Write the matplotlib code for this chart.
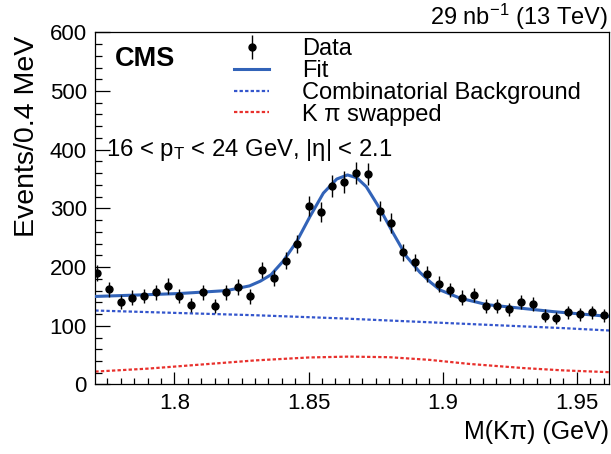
import numpy as np
import matplotlib.pyplot as plt
from matplotlib.ticker import MultipleLocator

plt.rcParams['font.family'] = ['Liberation Sans', 'DejaVu Sans']
plt.rcParams['mathtext.fontset'] = 'custom'
plt.rcParams['mathtext.rm'] = 'Liberation Sans'
plt.rcParams['mathtext.it'] = 'Liberation Sans:italic'
plt.rcParams['mathtext.default'] = 'regular'

# D0 -> K pi candidates, bin centres (GeV)
mass = [1.7711, 1.7755, 1.7799, 1.7843, 1.7887, 1.7931, 1.7975, 1.8018,
        1.8062, 1.8106, 1.8150, 1.8194, 1.8238, 1.8282, 1.8326, 1.8370,
        1.8414, 1.8458, 1.8502, 1.8546, 1.8589, 1.8633, 1.8677, 1.8721,
        1.8765, 1.8809, 1.8853, 1.8897, 1.8941, 1.8985, 1.9029, 1.9073,
        1.9116, 1.9160, 1.9204, 1.9248, 1.9292, 1.9336, 1.9380, 1.9424,
        1.9468, 1.9512, 1.9556, 1.9600]
counts = [190, 162, 141, 148, 151, 157, 168, 151, 135, 157, 134, 157, 166,
          150, 195, 181, 211, 239, 304, 294, 338, 345, 360, 358, 296, 275,
          225, 208, 188, 171, 161, 148, 152, 134, 134, 128, 140, 137, 117,
          113, 123, 120, 123, 118]
errors = [13.8, 12.7, 11.9, 12.2, 12.3, 12.5, 13.0, 12.3, 11.6, 12.5, 11.6,
          12.5, 12.9, 12.2, 14.0, 13.5, 14.5, 15.5, 17.4, 17.1, 18.4, 18.6,
          19.0, 18.9, 17.2, 16.6, 15.0, 14.4, 13.7, 13.1, 12.7, 12.2, 12.3,
          11.6, 11.6, 11.3, 11.8, 11.7, 10.8, 10.6, 11.1, 11.0, 11.1, 10.9]

# fit curves
fit_mass = [1.7705, 1.790, 1.802, 1.8195, 1.828, 1.832, 1.836, 1.8405,
            1.8455, 1.8505, 1.8555, 1.8605, 1.8645, 1.868, 1.8715, 1.8765,
            1.8815, 1.8865, 1.8915, 1.8955, 1.899, 1.9065, 1.9165, 1.929,
            1.9415, 1.962]
fit_vals = [150, 153, 155, 160, 168, 176, 187, 210, 243, 286, 326, 350, 357,
            352, 337, 300, 258, 218, 191, 174, 161, 147, 136, 130, 124, 116]

bkg_mass = [1.7705, 1.80, 1.83, 1.86, 1.89, 1.92, 1.945, 1.962]
bkg_vals = [126, 122, 118, 113, 107, 101, 96, 92]

swap_mass = [1.7705, 1.79, 1.81, 1.83, 1.85, 1.865, 1.88, 1.895, 1.91, 1.93,
             1.945, 1.962]
swap_vals = [22, 27, 34, 41, 46, 47.5, 46.5, 42, 35, 28, 24, 21]

fig = plt.figure(figsize=(6.11, 4.54), dpi=100)
ax = fig.add_axes([0.156, 0.1531, 0.8408, 0.7758])

data = ax.errorbar(mass, counts, yerr=errors, fmt='o', color='black',
                   markersize=5, elinewidth=1, capsize=0, zorder=5)
fit_line, = ax.plot(fit_mass, fit_vals, color='#3263b8', lw=2.2, zorder=4)
bkg_line, = ax.plot(bkg_mass, bkg_vals, color='#3355cc', lw=1.6,
                    linestyle=(0, (1.5, 1)))
swap_line, = ax.plot(swap_mass, swap_vals, color='#e8302c', lw=1.6,
                     linestyle=(0, (1.5, 1)))

ax.set_xlim(1.7705, 1.962)
ax.set_ylim(0, 600)
ax.xaxis.set_major_locator(MultipleLocator(0.05))
ax.xaxis.set_minor_locator(MultipleLocator(0.005))
ax.yaxis.set_major_locator(MultipleLocator(100))
ax.yaxis.set_minor_locator(MultipleLocator(20))
ax.tick_params(which='both', direction='in', top=False, right=False,
               labelsize=16, width=0.9)
ax.tick_params(axis='x', which='major', length=8.6, pad=6)
ax.tick_params(axis='x', which='minor', length=4.2)
ax.tick_params(axis='y', which='major', length=10.5, pad=6)
ax.tick_params(axis='y', which='minor', length=5)
ax.xaxis.set_major_formatter(plt.FuncFormatter(lambda v, p: f'{v:g}'))
for s in ax.spines.values():
    s.set_linewidth(0.9)

ax.set_xlabel('M(K\u03c0) (GeV)', fontsize=18, loc='right')
ax.xaxis.set_label_coords(1.0, -0.1)
ax.set_ylabel('Events/0.4 MeV', fontsize=20.5, loc='top')
ax.yaxis.set_label_coords(-0.108, 0.99)

ax.text(0.998, 1.021, '29 nb$^{-1}$ (13 TeV)', transform=ax.transAxes,
        ha='right', va='baseline', fontsize=17)
ax.text(0.038, 0.925, 'CMS', transform=ax.transAxes, ha='left', va='center',
        fontsize=19.5, fontweight='bold')
ax.text(0.021, 0.666, '16 < p$_{T}$ < 24 GeV, |\u03b7| < 2.1',
        transform=ax.transAxes, ha='left', va='center', fontsize=17.2)

ax.legend([data, fit_line, bkg_line, swap_line],
          ['Data', 'Fit', 'Combinatorial Background', 'K \u03c0 swapped'],
          loc='upper left', bbox_to_anchor=(0.27, 0.983), frameon=False,
          fontsize=17, handlelength=1.5, handletextpad=1.4,
          labelspacing=-0.01, borderpad=0, borderaxespad=0)

fig.savefig('out.png', dpi=100)
